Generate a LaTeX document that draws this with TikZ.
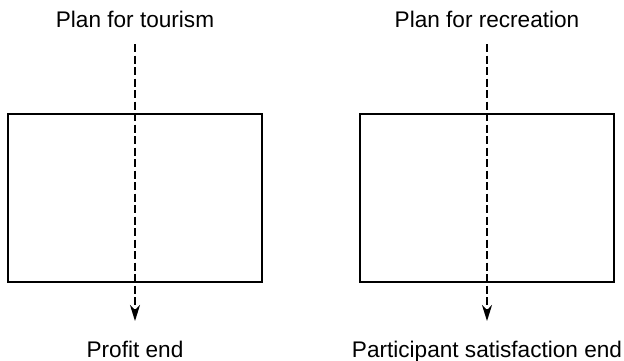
\documentclass[tikz,border=0pt]{standalone}
\usepackage{fontspec}
\setmainfont{Liberation Sans}
\usetikzlibrary{arrows.meta}

\begin{document}
\begin{tikzpicture}[x=0.5pt,y=-0.5pt,
    planbox/.style={draw, line width=0.75pt, minimum width=127pt, minimum height=84pt, inner sep=0pt},
    flow/.style={line width=0.75pt, dash pattern=on 4pt off 1.75pt, -{Stealth[length=8pt,width=5pt,inset=2.5pt]}},
    heading/.style={anchor=base, inner sep=0pt, font=\fontsize{11.3}{13}\selectfont}]
    \useasboundingbox (0,0) rectangle (624,360);

    % Headings
    \node[heading] (tourism) at (135,27) {Plan for tourism};
    \node[heading] (recreation) at (487,27) {Plan for recreation};

    % Boxes
    \node[planbox] (tourbox) at (135,198) {};
    \node[planbox] (recbox) at (487,198) {};

    % Ends
    \node[heading] (profit) at (135,357) {Profit end};
    \node[heading] (satisfaction) at (487,357) {Participant satisfaction end};

    % Dashed flow through each box
    \coordinate (tourtop) at (135,44);
    \coordinate (tourend) at (135,321);
    \coordinate (rectop) at (487,44);
    \coordinate (recend) at (487,321);
    \draw[flow] (tourtop) -- (tourend);
    \draw[flow] (rectop) -- (recend);
\end{tikzpicture}
\end{document}
